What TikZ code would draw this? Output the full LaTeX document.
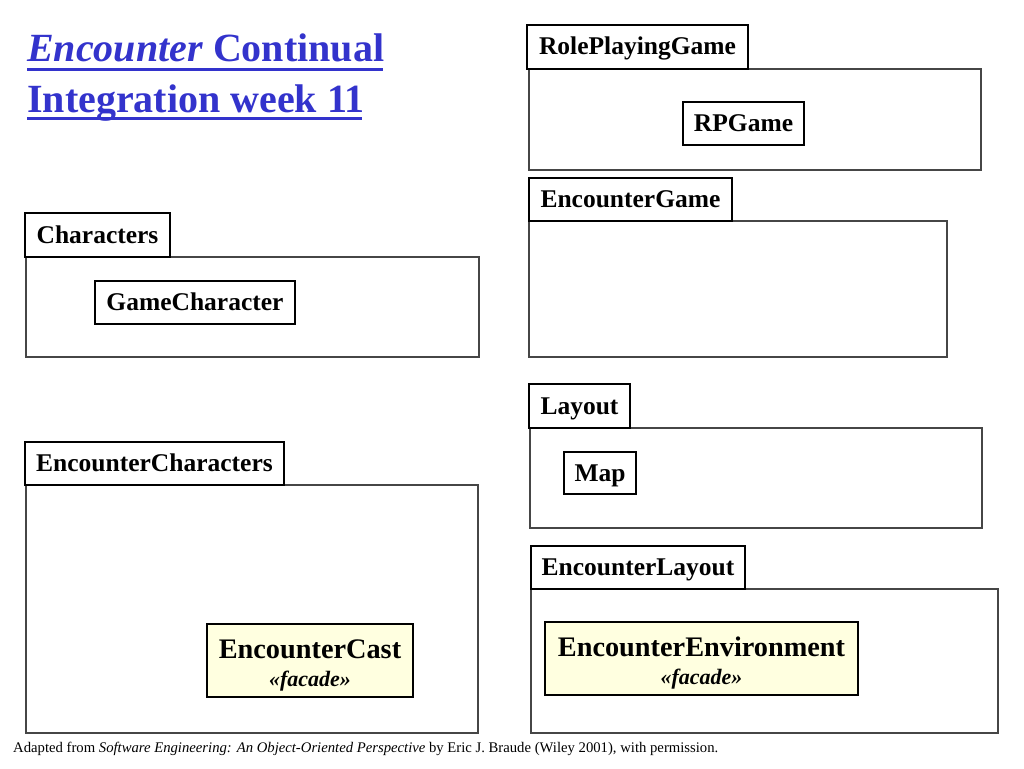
\documentclass[tikz,border=0pt]{standalone}
\usepackage{fontspec}
\setmainfont{Liberation Serif}
\usepackage{tikz}
\definecolor{titleblue}{RGB}{51,51,204}
\definecolor{facadefill}{RGB}{255,255,224}
\definecolor{bodygray}{RGB}{70,70,70}
\newcommand{\stereotxt}[1]{{\fontsize{22}{22}\selectfont\bfseries\itshape #1}}
\begin{document}
\begin{tikzpicture}[x=1pt,y=-1pt,
  tab/.style={draw=black,line width=1.6pt,fill=white,inner sep=0pt,outer sep=0pt,anchor=center,text height=17pt,text depth=1pt,font=\fontsize{25.5}{26}\selectfont\bfseries},
  pkgbody/.style={draw=bodygray,line width=1.2pt,inner sep=0pt,outer sep=0pt,anchor=north west},
  cls/.style={draw=black,line width=1.6pt,fill=white,inner sep=0pt,outer sep=0pt,anchor=center,text height=17pt,text depth=1pt,font=\fontsize{25.5}{26}\selectfont\bfseries},
  facade/.style={draw=black,line width=1.4pt,fill=facadefill,inner sep=0pt,outer sep=0pt,anchor=center,align=center,font=\fontsize{28.3}{28}\selectfont\bfseries}
]
\useasboundingbox (0,0) rectangle (1024,768);
% title
\node (t1) [anchor=base west,inner sep=0pt,text=titleblue,font=\fontsize{40}{40}\selectfont\bfseries] at (27,62) {\textit{Encounter} Continual};
\node (t2) [anchor=base west,inner sep=0pt,text=titleblue,font=\fontsize{40}{40}\selectfont\bfseries] at (27,112) {Integration week 11};
\fill[titleblue] (27,67.5) rectangle (383,70.5);
\fill[titleblue] (27,116.5) rectangle (362,119.5);

% RolePlayingGame
\node (b1) [pkgbody,minimum width=452pt,minimum height=101pt] at (529,69) {};
\node (p1) [tab,minimum width=221pt,minimum height=44pt] at (637.5,47) {RolePlayingGame};
\node (c1) [cls,minimum width=121pt,minimum height=43pt] at (743.5,123.5) {RPGame};

% EncounterGame
\node (b2) [pkgbody,minimum width=418pt,minimum height=136pt] at (529,221) {};
\node (p2) [tab,minimum width=203pt,minimum height=43pt] at (630.5,199.5) {EncounterGame};

% Characters
\node (b3) [pkgbody,minimum width=453pt,minimum height=100pt] at (26,257) {};
\node (p3) [tab,minimum width=145pt,minimum height=44pt] at (97.5,235) {Characters};
\node (c3) [cls,minimum width=200pt,minimum height=43pt] at (195,302.5) {GameCharacter};

% Layout
\node (b4) [pkgbody,minimum width=452pt,minimum height=100pt] at (530,428) {};
\node (p4) [tab,minimum width=101pt,minimum height=44pt] at (579.5,406) {Layout};
\node (c4) [cls,minimum width=72pt,minimum height=42pt] at (600,473) {Map};

% EncounterCharacters
\node (b5) [pkgbody,minimum width=452pt,minimum height=248pt] at (26,485) {};
\node (p5) [tab,minimum width=259pt,minimum height=43pt] at (154.5,463.5) {EncounterCharacters};
\node (c5) [facade,minimum width=206pt,minimum height=73pt] at (310,660.5) {\rule{0pt}{29pt}EncounterCast\\\stereotxt{«facade»}};

% EncounterLayout
\node (b6) [pkgbody,minimum width=467pt,minimum height=144pt] at (531,589) {};
\node (p6) [tab,minimum width=214pt,minimum height=43pt] at (638,567.5) {EncounterLayout};
\node (c6) [facade,minimum width=313pt,minimum height=73pt] at (701.5,658.5) {\rule{0pt}{29pt}EncounterEnvironment\\\stereotxt{«facade»}};

% footer
\node (f) [anchor=base west,inner sep=0pt,font=\fontsize{14.7}{15}\selectfont] at (13,752) {Adapted from \textit{Software Engineering: An Object-Oriented Perspective} by Eric J. Braude (Wiley 2001), with permission.};
\end{tikzpicture}
\end{document}
